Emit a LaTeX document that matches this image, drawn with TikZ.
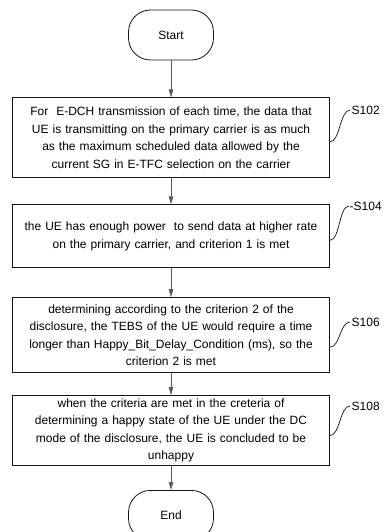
\documentclass[tikz,border=0pt]{standalone}
\usepackage{fontspec}
\setmainfont{Liberation Sans}
\usepackage{xcolor}
\definecolor{ink-900}{RGB}{20,20,20}
\definecolor{ink-600}{RGB}{90,90,90}
\usepackage{tikz}
\usetikzlibrary{positioning,arrows.meta}

\begin{document}
\begin{tikzpicture}[
    x=1pt, y=-1pt,
    terminal/.style={
        rounded corners=22pt,
        draw=ink-900,
        line width=0.8pt,
        minimum width=85pt,
        minimum height=50pt,
        font=\fontsize{12}{14}\selectfont
    },
    stepbox/.style={
        draw=ink-900,
        line width=0.9pt,
        text width=309pt,
        inner xsep=4pt,
        inner ysep=2pt,
        minimum height=#1,
        font=\fontsize{12}{17.5}\selectfont,
        align=center
    },
    arrow/.style={-{Triangle[length=8pt,width=4.5pt]}, ink-600, line width=0.7pt},
    brace/.style={ink-900, line width=0.7pt},
    step label/.style={anchor=west, inner sep=1.5pt, font=\fontsize{12}{14}\selectfont}
]

\useasboundingbox (0,0) rectangle (387,532);

% === TERMINALS AND STEPS ===
\node[terminal] (start) at (171,35) {Start};

\node[stepbox=80pt, below=37pt of start] (s1) {
    For \ E-DCH transmission of each time, the data that\\
    UE is transmitting on the primary carrier is as much\\
    as the maximum scheduled data allowed by the\\
    current SG in E-TFC selection on the carrier
};

\node[stepbox=63pt, below=26pt of s1] (s2) {
    the UE has enough power \ to send data at higher rate\\
    on the primary carrier, and criterion 1 is met
};

\node[stepbox=75pt, below=29pt of s2] (s3) {
    determining according to the criterion 2 of the\\
    disclosure, the TEBS of the UE would require a time\\
    longer than Happy\_Bit\_Delay\_Condition (ms), so the\\
    criterion 2 is met
};

\node[stepbox=70pt, below=22pt of s3] (s4) {
    when the criteria are met in the creteria of\\
    determining a happy state of the UE under the DC\\
    mode of the disclosure, the UE is concluded to be\\
    unhappy
};

\node[terminal, below=24pt of s4] (end) {End};

% === STEP LABELS ===
\node[step label] (l102) at (350,110) {S102};
\node[step label, inner sep=0.5pt] (l104) at (349,206) {-S104};
\node[step label] (l106) at (350,322) {S106};
\node[step label] (l108) at (350,406) {S108};

% === ARROWS ===
\draw[arrow] (start.south) -- (s1.north);
\draw[arrow] (s1.south) -- (s2.north);
\draw[arrow] (s2.south) -- (s3.north);
\draw[arrow] (s3.south) -- (s4.north);
\draw[arrow] (s4.south) -- (end.north);

% Curly leaders from box edge to step number
\draw[brace] ([yshift=-4pt]s1.east) .. controls +(10,0) and +(-10,0) .. (l102.west);
\draw[brace] ([yshift=-4pt]s2.east) .. controls +(10,0) and +(-10,0) .. (l104.west);
\draw[brace] ([yshift=-12pt]s3.east) .. controls +(10,0) and +(-10,0) .. (l106.west);
\draw[brace] ([yshift=-5pt]s4.east) .. controls +(10,0) and +(-10,0) .. (l108.west);

\end{tikzpicture}
\end{document}
